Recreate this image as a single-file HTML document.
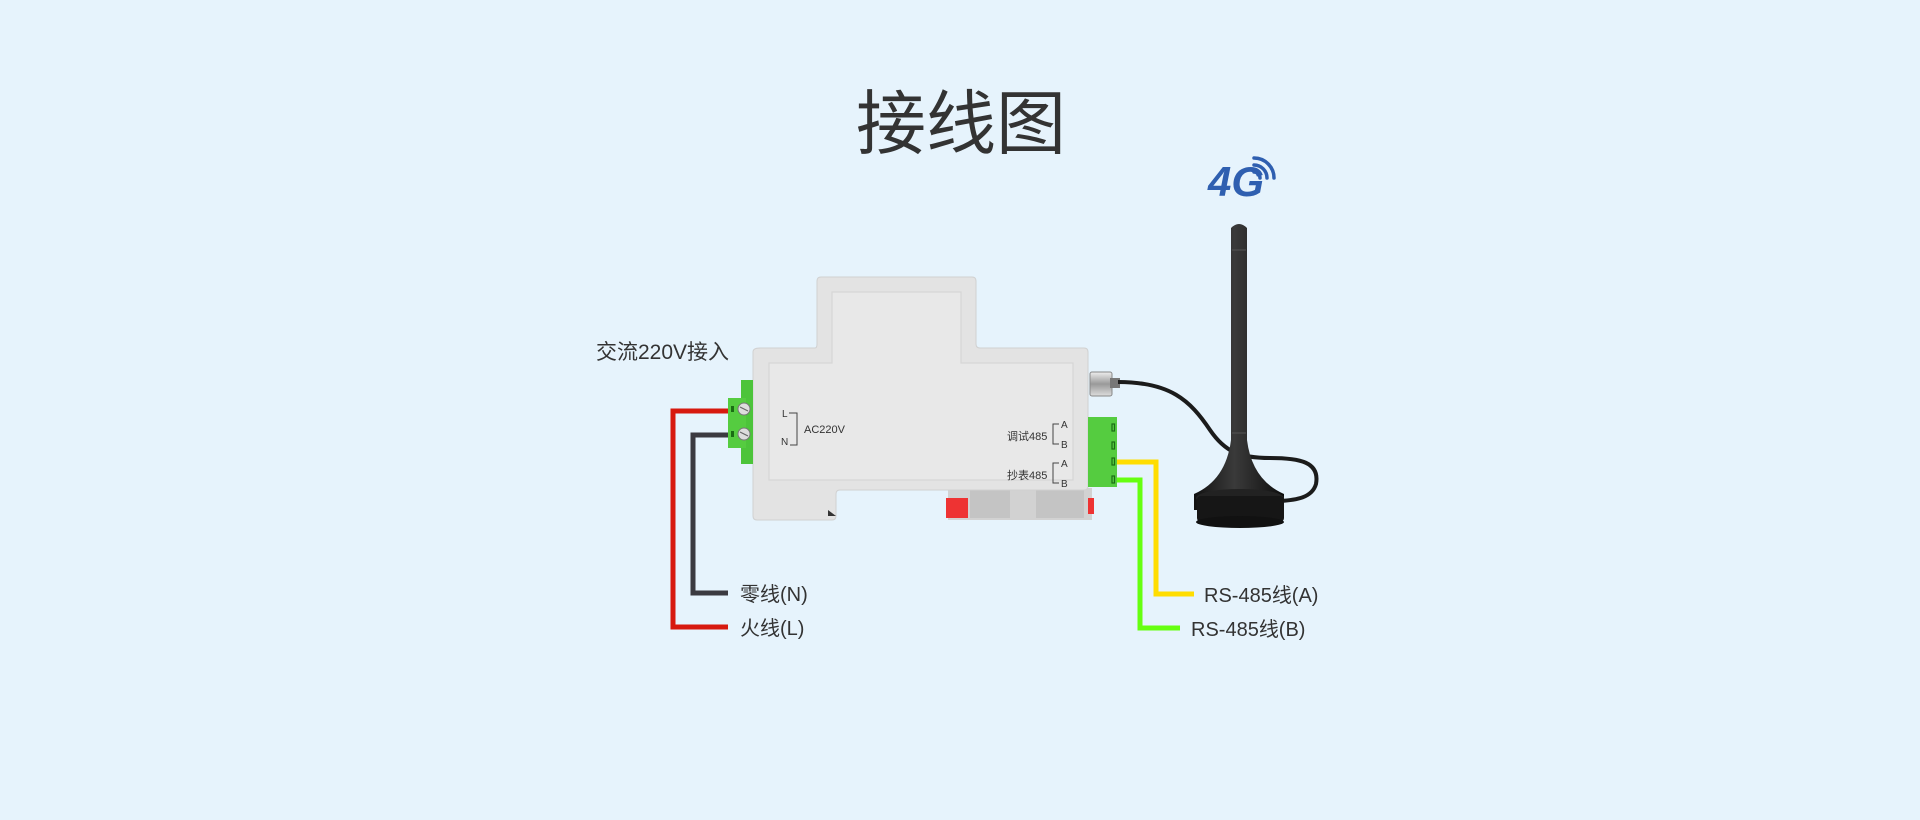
<!DOCTYPE html>
<html><head><meta charset="utf-8"><style>
html,body{margin:0;padding:0;width:1920px;height:820px;overflow:hidden;background:#e6f3fc}
svg{display:block}
text{font-family:"Liberation Sans","Noto Sans CJK SC",sans-serif}
</style></head><body>
<svg width="1920" height="820" viewBox="0 0 1920 820">
<defs>
<linearGradient id="whip" x1="0" x2="1"><stop offset="0" stop-color="#111"/><stop offset=".45" stop-color="#3a3a3a"/><stop offset="1" stop-color="#0d0d0d"/></linearGradient>
<linearGradient id="nut" x1="0" y1="0" x2="0" y2="1"><stop offset="0" stop-color="#eee"/><stop offset=".5" stop-color="#999"/><stop offset="1" stop-color="#ddd"/></linearGradient>
</defs>
<rect width="1920" height="820" fill="#e6f3fc"/>
<text x="961" y="148" font-size="70" fill="#333" text-anchor="middle">接线图</text>

<!-- 4G logo -->
<text x="1208" y="196" font-size="42" font-weight="bold" font-style="italic" fill="#2f5fb0">4G</text>
<g fill="none" stroke="#2f5fb0" stroke-width="3.5" stroke-linecap="round">
<path d="M1254 172 A6 6 0 0 1 1260 178"/>
<path d="M1254 165 A13 13 0 0 1 1267 178"/>
<path d="M1254 158 A20 20 0 0 1 1274 178"/>
</g>

<!-- wires left -->
<polyline points="741,411 673,411 673,627 728,627" fill="none" stroke="#d7190f" stroke-width="5"/>
<polyline points="741,435 693,435 693,593 728,593" fill="none" stroke="#3b3a40" stroke-width="5"/>
<!-- wires right -->
<polyline points="1100,462 1156,462 1156,594 1194,594" fill="none" stroke="#ffdd00" stroke-width="5"/>
<polyline points="1100,480 1140,480 1140,628 1180,628" fill="none" stroke="#66ff10" stroke-width="5"/>

<text x="740" y="601" font-size="20" fill="#333">零线(N)</text>
<text x="740" y="635" font-size="20" fill="#333">火线(L)</text>
<text x="1204" y="602" font-size="20" fill="#333">RS-485线(A)</text>
<text x="1191" y="636" font-size="20" fill="#333">RS-485线(B)</text>
<text x="596" y="359" font-size="21" fill="#333">交流220V接入</text>

<!-- device -->
<rect x="948" y="488" width="144" height="32" fill="#d2d2d2"/>
<rect x="970" y="490" width="40" height="28" fill="#c4c4c4"/><rect x="1036" y="490" width="48" height="28" fill="#c4c4c4"/>
<rect x="946" y="498" width="22" height="20" fill="#e33"/>
<rect x="1088" y="498" width="6" height="16" fill="#e33"/>
<path d="M760 348 H815 Q817 348 817 344 V281 Q817 277 821 277 H972 Q976 277 976 281 V344 Q976 348 980 348 H1084 Q1088 348 1088 352 V486 Q1088 490 1084 490 H840 Q836 490 836 494 V516 Q836 520 832 520 H757 Q753 520 753 516 V352 Q753 348 760 348 Z" fill="#e3e3e3" stroke="#d0d0d0" stroke-width="1"/>
<path d="M769 363 H832 V292 H961 V363 H1073 V480 H769 Z" fill="#e8e8e8" stroke="#d6d6d6" stroke-width="1.2"/>
<path d="M828 510 L836 516 H828 Z" fill="#333"/>
<!-- left terminal -->
<rect x="741" y="380" width="12" height="84" fill="#4cc43a"/>
<rect x="728" y="398" width="18" height="50" fill="#55cc40"/>
<rect x="731" y="406" width="3" height="6" fill="#1a6d14"/><rect x="731" y="431" width="3" height="6" fill="#1a6d14"/>
<circle cx="744" cy="409" r="6" fill="#ddd" stroke="#777"/><circle cx="744" cy="434" r="6" fill="#ddd" stroke="#777"/>
<path d="M740 407 l8 4 M740 432 l8 4" stroke="#666" stroke-width="1.2"/>
<!-- right terminal -->
<rect x="1088" y="417" width="29" height="70" fill="#55cc40"/>
<g fill="none" stroke="#1a6d14" stroke-width="1.2"><rect x="1112" y="424" width="2.5" height="7"/><rect x="1112" y="442" width="2.5" height="7"/><rect x="1112" y="458" width="2.5" height="7"/><rect x="1112" y="476" width="2.5" height="7"/></g>
<!-- labels on device -->
<g font-family="Liberation Serif, Noto Serif CJK SC, serif" fill="#333">
<text x="782" y="417" font-size="10">L</text><text x="781" y="445" font-size="10">N</text>
<polyline points="789,413 797,413 797,445 790,445" fill="none" stroke="#444" stroke-width="1"/>
<text x="804" y="433" font-size="11">AC220V</text>
<text x="1007" y="440" font-size="11">调试485</text>
<text x="1007" y="479" font-size="11">抄表485</text>
<text x="1061" y="428" font-size="10">A</text><text x="1061" y="448" font-size="10">B</text>
<text x="1061" y="467" font-size="10">A</text><text x="1061" y="487" font-size="10">B</text>
<polyline points="1059,424 1053,424 1053,444 1059,444" fill="none" stroke="#444"/>
<polyline points="1059,463 1053,463 1053,483 1059,483" fill="none" stroke="#444"/>
</g>
<!-- connector -->
<rect x="1090" y="372" width="22" height="24" rx="2" fill="url(#nut)" stroke="#888"/>
<rect x="1110" y="378" width="10" height="10" fill="#777"/>
<!-- cable -->
<path d="M1118 382 C1170 382 1190 400 1210 430 C1225 452 1240 458 1270 458 C1300 458 1320 462 1316 484 C1312 498 1296 500 1280 501" fill="none" stroke="#1b1b1b" stroke-width="4"/>
<!-- antenna -->
<path d="M1231 228 Q1239 220 1247 228 V440 Q1252 480 1284 494 V510 H1194 V494 Q1226 480 1231 440 Z" fill="url(#whip)"/>
<ellipse cx="1240" cy="498" rx="44" ry="9" fill="#222"/>
<rect x="1197" y="496" width="87" height="26" rx="4" fill="#161616"/>
<ellipse cx="1240" cy="522" rx="44" ry="6" fill="#111"/>
<line x1="1232" y1="250" x2="1246" y2="250" stroke="#555" stroke-width="1"/>
<line x1="1232" y1="433" x2="1246" y2="433" stroke="#555" stroke-width="1"/>
</svg>
</body></html>
